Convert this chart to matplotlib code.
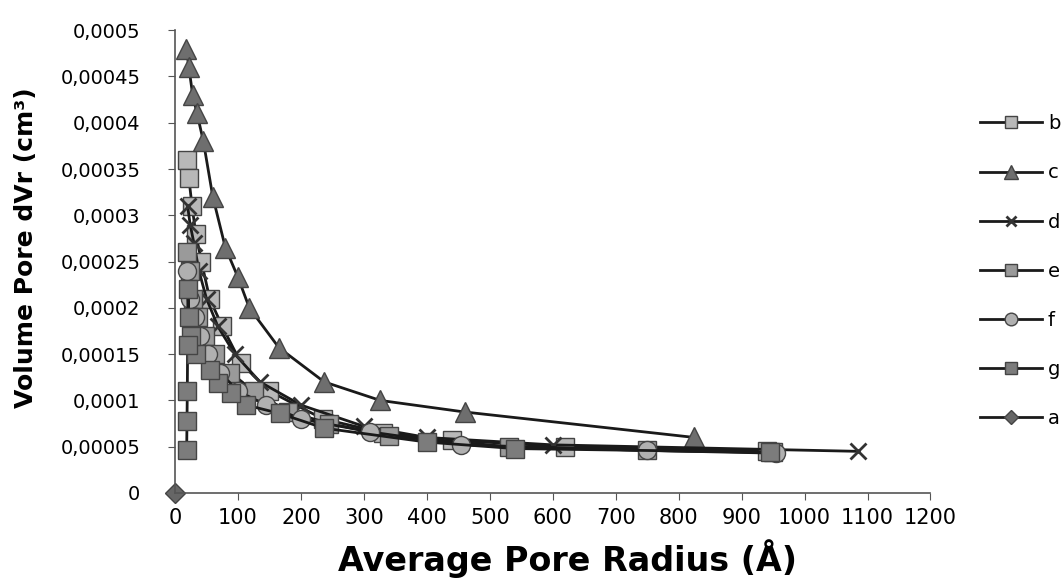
import numpy as np
import matplotlib
matplotlib.use('Agg')
import matplotlib.pyplot as plt
from matplotlib.ticker import FuncFormatter

# series data (radius in Angstrom, dVr in cm3)
b_x = [19, 22, 27, 33, 42, 55, 75, 105, 150, 235, 330, 440, 620, 940]
b_y = [0.00036, 0.00034, 0.00031, 0.00028, 0.00025, 0.00021, 0.00018, 0.00014,
       0.00011, 0.00008, 0.000065, 0.000057, 0.00005, 0.000045]

c_x = [18, 22, 28, 35, 45, 60, 80, 100, 118, 165, 237, 326, 460, 825]
c_y = [0.00048, 0.00046, 0.00043, 0.00041, 0.00038, 0.00032, 0.000265, 0.000233,
       0.0002, 0.000157, 0.00012, 0.0001, 0.0000875, 0.00006]

d_x = [20, 24, 30, 38, 50, 68, 95, 135, 200, 300, 400, 600, 1085]
d_y = [0.00031, 0.00029, 0.00027, 0.00024, 0.00021, 0.00018, 0.00015, 0.00012,
       0.000095, 0.000072, 0.00006, 0.000052, 0.000045]

e_x = [19, 23, 29, 37, 48, 64, 88, 125, 180, 245, 340, 530, 750, 950]
e_y = [0.00026, 0.00024, 0.00021, 0.00019, 0.00017, 0.00015, 0.00013, 0.00011,
       0.000088, 0.000075, 0.000062, 0.00005, 0.000046, 0.000044]

f_x = [19, 24, 31, 40, 53, 72, 100, 145, 200, 310, 455, 750, 955]
f_y = [0.00024, 0.00021, 0.00019, 0.00017, 0.00015, 0.00013, 0.00011, 0.000095,
       0.00008, 0.000066, 0.000052, 0.000046, 0.000043]

g_x = [945, 540, 400, 237, 166, 113, 89, 69, 56, 34, 26, 22, 20.5, 20, 19.5, 19, 18.5]
g_y = [0.000044, 0.000048, 0.000055, 0.00007, 0.000086, 0.000095, 0.000108, 0.000119,
       0.000133, 0.00015, 0.00017, 0.00019, 0.00022, 0.00016, 0.00011, 0.000078, 0.000046]

a_x = [0]
a_y = [0]

series = [
    ('b', b_x, b_y, 's', '#b8b8b8', 13),
    ('c', c_x, c_y, '^', '#6e6e6e', 15),
    ('d', d_x, d_y, 'x', '#333333', 11),
    ('e', e_x, e_y, 's', '#9a9a9a', 13),
    ('f', f_x, f_y, 'o', '#b0b0b0', 13),
    ('g', g_x, g_y, 's', '#7c7c7c', 13),
    ('a', a_x, a_y, 'D', '#666666', 10),
]

fig = plt.figure(figsize=(10.64, 5.8), dpi=100)
ax = fig.add_axes([0.1645, 0.15, 0.71, 0.798])

for name, x, y, mk, col, ms in series:
    if mk == 'x':
        ax.plot(x, y, color='#1a1a1a', lw=2, marker=mk, ms=ms, mew=2,
                mec=col, label=name, clip_on=False)
    else:
        ax.plot(x, y, color='#1a1a1a', lw=2, marker=mk, ms=ms, mfc=col,
                mec='#444444', mew=1, label=name, clip_on=False)

ax.set_xlim(0, 1200)
ax.set_ylim(0, 0.0005)
ax.set_xticks(np.arange(0, 1201, 100))
ax.set_yticks(np.arange(0, 0.00051, 0.00005))

def comma_fmt(v, pos):
    if abs(v) < 1e-12:
        return '0'
    s = ('%.5f' % v).rstrip('0')
    return s.replace('.', ',')

ax.yaxis.set_major_formatter(FuncFormatter(comma_fmt))
ax.tick_params(axis='y', labelsize=14, length=5, pad=20, color='#555555')
ax.tick_params(axis='x', labelsize=15, length=5, pad=6, color='#555555')
for sp in ['top', 'right']:
    ax.spines[sp].set_visible(False)
for sp in ['left', 'bottom']:
    ax.spines[sp].set_color('#555555')
    ax.spines[sp].set_linewidth(1.2)

ax.set_xlabel('Average Pore Radius (Å)', fontsize=24, fontweight='bold')
ax.xaxis.set_label_coords(0.52, -0.1)
ax.set_ylabel('Volume Pore dVr (cm³)', fontsize=18, fontweight='bold')
ax.yaxis.set_label_coords(-0.182, 0.53)

leg = fig.legend(loc='upper left', bbox_to_anchor=(0.921, 0.803), frameon=False,
                 fontsize=14, handlelength=3.2, labelspacing=1.55, markerscale=0.7,
                 handletextpad=0.3, borderpad=0, borderaxespad=0)

fig.savefig('out.png', dpi=100)
